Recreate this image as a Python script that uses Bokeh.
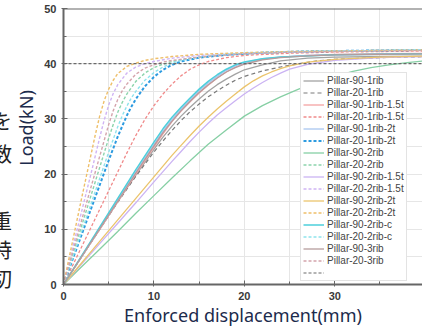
from bokeh.plotting import figure
from bokeh.models import Range1d, SingleIntervalTicker, Span, Legend, Div
from bokeh.layouts import row
from bokeh.embed import file_html
from bokeh.resources import INLINE

# ---------------- data ----------------
x_90_1rib = [0, 2, 4, 6, 8, 10, 11, 12, 13, 14, 15, 16, 17, 18, 19, 20, 22, 24, 27, 30, 35, 40.6]
y_90_1rib = [0, 5.0, 10.0, 15.0, 19.8, 24.5, 26.7, 28.7, 30.5, 32.1, 33.6, 35.0, 36.2, 37.2, 38.1, 38.9, 39.8, 40.5, 41.0, 41.2, 41.3, 41.4]

x_20_1rib = [0, 2, 4, 6, 8, 10, 11, 12, 13, 14, 15, 16, 17, 18, 19, 20, 22, 24, 26, 28, 30, 35, 40.6]
y_20_1rib = [0, 5.0, 10.0, 14.9, 19.6, 24.0, 26.0, 27.9, 29.7, 31.3, 32.7, 34.0, 35.1, 36.1, 37.0, 37.7, 38.7, 39.4, 40.0, 40.5, 40.8, 41.1, 41.3]

x_90_1rib_15t = [0, 2, 4, 6, 8, 10, 11, 12, 13, 14, 15, 16, 17, 18, 19, 20, 22, 24, 27, 30, 35, 40.6]
y_90_1rib_15t = [0, 5.0, 10.0, 15.0, 20.0, 24.9, 27.3, 29.5, 31.4, 33.1, 34.7, 36.1, 37.4, 38.5, 39.4, 40.0, 40.8, 41.2, 41.5, 41.7, 41.8, 41.9]

x_20_1rib_15t = [0, 2, 4, 6, 7, 8, 9, 10, 11, 12, 13, 14, 15, 16, 18, 20, 25, 30, 35, 40.6]
y_20_1rib_15t = [0, 6.8, 13.6, 20.4, 23.8, 27.0, 29.9, 32.4, 34.5, 36.3, 37.8, 39.0, 39.8, 40.4, 41.1, 41.5, 41.9, 42.1, 42.2, 42.3]

x_90_1rib_2t = [0, 2, 4, 6, 8, 10, 11, 12, 13, 14, 15, 16, 17, 18, 19, 20, 22, 24, 27, 30, 35, 40.6]
y_90_1rib_2t = [0, 5.1, 10.2, 15.3, 20.4, 25.4, 27.8, 29.9, 31.8, 33.5, 35.1, 36.5, 37.7, 38.8, 39.6, 40.2, 40.9, 41.2, 41.5, 41.6, 41.7, 41.8]

x_20_1rib_2t = [0, 1, 2, 3, 4, 5, 6, 7, 7.5, 8, 9, 10, 11, 12, 13, 15, 18, 22, 26, 30, 35, 40.6]
y_20_1rib_2t = [0, 4.5, 9.0, 13.5, 18.0, 22.5, 26.8, 30.6, 32.2, 33.6, 35.9, 37.6, 38.9, 39.8, 40.4, 41.1, 41.6, 42.0, 42.2, 42.3, 42.4, 42.5]

x_90_2rib = [0, 2, 4, 6, 8, 10, 12, 14, 16, 18, 20, 22, 24, 26, 28, 30, 32, 34, 36, 38, 40.6]
y_90_2rib = [0, 3.2, 6.4, 9.6, 12.9, 16.1, 19.3, 22.4, 25.4, 28.0, 30.5, 32.4, 34.0, 35.4, 36.6, 37.7, 38.6, 39.3, 39.8, 40.2, 40.6]

x_20_2rib = [0, 1, 2, 3, 4, 5, 5.5, 6, 6.5, 7, 8, 9, 10, 11, 12, 14, 17, 20, 25, 30, 35, 40.6]
y_20_2rib = [0, 5.3, 10.6, 15.9, 21.2, 26.5, 29.0, 31.2, 33.0, 34.5, 36.8, 38.3, 39.3, 39.9, 40.4, 41.0, 41.5, 41.8, 42.1, 42.3, 42.4, 42.5]

x_90_2rib_15t = [0, 2, 4, 6, 8, 10, 12, 13, 14, 15, 16, 17, 18, 19, 20, 21, 22, 23, 24, 25, 27, 30, 35, 40.6]
y_90_2rib_15t = [0, 3.7, 7.4, 11.1, 14.8, 18.6, 22.3, 24.1, 25.9, 27.6, 29.2, 30.7, 32.0, 33.3, 34.5, 35.6, 36.6, 37.5, 38.3, 39.0, 39.9, 40.6, 41.1, 41.3]

x_20_2rib_15t = [0, 1, 2, 3, 4, 4.5, 5, 5.5, 6, 7, 8, 9, 10, 12, 15, 20, 25, 30, 35, 40.6]
y_20_2rib_15t = [0, 6.6, 13.2, 19.8, 26.6, 29.8, 32.5, 34.6, 36.2, 38.3, 39.4, 40.0, 40.4, 41.0, 41.5, 41.9, 42.1, 42.3, 42.4, 42.5]

x_90_2rib_2t = [0, 2, 4, 6, 8, 10, 12, 13, 14, 15, 16, 17, 18, 19, 20, 21, 22, 23, 24, 25, 27, 30, 35, 40.6]
y_90_2rib_2t = [0, 3.9, 7.8, 11.7, 15.6, 19.5, 23.4, 25.2, 27.0, 28.7, 30.3, 31.8, 33.2, 34.5, 35.8, 36.9, 37.8, 38.5, 39.1, 39.6, 40.3, 40.8, 41.2, 41.4]

x_20_2rib_2t = [0, 1, 2, 3, 3.5, 4, 4.5, 5, 5.5, 6, 7, 8, 9, 10, 12, 15, 20, 25, 30, 35, 40.6]
y_20_2rib_2t = [0, 7.8, 15.6, 23.2, 27.0, 30.5, 33.3, 35.4, 37.0, 38.2, 39.5, 40.1, 40.6, 40.9, 41.3, 41.7, 42.0, 42.2, 42.3, 42.4, 42.5]

x_90_2rib_c = [0, 2, 4, 6, 8, 10, 11, 12, 13, 14, 15, 16, 17, 18, 19, 20, 22, 24, 27, 30, 35, 40.6]
y_90_2rib_c = [0, 5.2, 10.4, 15.6, 20.8, 25.8, 28.2, 30.3, 32.1, 33.8, 35.4, 36.8, 38.0, 39.0, 39.8, 40.3, 40.9, 41.2, 41.4, 41.6, 41.7, 41.8]

x_20_2rib_c = [0, 1, 2, 3, 4, 5, 6, 6.5, 7, 7.5, 8, 9, 10, 11, 12, 13, 15, 18, 22, 26, 30, 35, 40.6]
y_20_2rib_c = [0, 4.8, 9.6, 14.4, 19.2, 24.0, 28.6, 30.6, 32.3, 33.8, 35.0, 37.0, 38.4, 39.4, 40.1, 40.6, 41.2, 41.7, 42.0, 42.2, 42.3, 42.4, 42.5]

x_90_3rib = [0, 2, 4, 6, 8, 10, 11, 12, 13, 14, 15, 16, 17, 18, 19, 20, 22, 24, 27, 30, 35, 40.6]
y_90_3rib = [0, 5.05, 10.1, 15.1, 20.2, 25.1, 27.5, 29.6, 31.5, 33.2, 34.8, 36.2, 37.4, 38.5, 39.3, 39.9, 40.7, 41.1, 41.4, 41.6, 41.7, 41.8]

x_20_3rib = [0, 1, 2, 3, 4, 5, 5.5, 6, 6.5, 7, 8, 9, 10, 11, 12, 15, 20, 25, 30, 35, 40.6]
y_20_3rib = [0, 5.8, 11.6, 17.4, 23.2, 29.0, 31.5, 33.5, 35.1, 36.3, 38.1, 39.2, 39.8, 40.3, 40.6, 41.2, 41.8, 42.1, 42.2, 42.3, 42.4]

ref_x = [0, 40.6]
ref_y = [40, 40]

series_names = [
    "Pillar-90-1rib", "Pillar-20-1rib", "Pillar-90-1rib-1.5t", "Pillar-20-1rib-1.5t",
    "Pillar-90-1rib-2t", "Pillar-20-1rib-2t", "Pillar-90-2rib", "Pillar-20-2rib",
    "Pillar-90-2rib-1.5t", "Pillar-20-2rib-1.5t", "Pillar-90-2rib-2t", "Pillar-20-2rib-2t",
    "Pillar-90-2rib-c", "Pillar-20-2rib-c", "Pillar-90-3rib", "Pillar-20-3rib",
]
series_x = [x_90_1rib, x_20_1rib, x_90_1rib_15t, x_20_1rib_15t, x_90_1rib_2t, x_20_1rib_2t,
            x_90_2rib, x_20_2rib, x_90_2rib_15t, x_20_2rib_15t, x_90_2rib_2t, x_20_2rib_2t,
            x_90_2rib_c, x_20_2rib_c, x_90_3rib, x_20_3rib]
series_y = [y_90_1rib, y_20_1rib, y_90_1rib_15t, y_20_1rib_15t, y_90_1rib_2t, y_20_1rib_2t,
            y_90_2rib, y_20_2rib, y_90_2rib_15t, y_20_2rib_15t, y_90_2rib_2t, y_20_2rib_2t,
            y_90_2rib_c, y_20_2rib_c, y_90_3rib, y_20_3rib]

x_title = "Enforced displacement(mm)"
y_title = "Load(kN)"
x_start, x_end = 0, 39.7
y_start, y_end = 0, 50
side_text = ["を", "数", "重", "特", "切"]

# ---------------- styles ----------------
colors = ["#a3a3a3", "#7a7a7a", "#f4a3a3", "#f08a8a", "#a9c6f0", "#2d9be0",
          "#86cfa4", "#8cd4ac", "#cbb3f3", "#d0b4f4", "#ebc46c", "#eebf6a",
          "#4ccfdb", "#8fe3ec", "#b59c9c", "#d4a4ac"]
dashes = ["solid", "4 3", "solid", "3 2", "solid", "3 2", "solid", "3 2",
          "solid", "3 2", "solid", "3 2", "solid", "3 2", "solid", "3 2"]
widths = [1.3, 1.2, 1.3, 1.3, 1.3, 2.0, 1.3, 1.4, 1.3, 1.4, 1.3, 1.4, 1.5, 1.4, 1.3, 1.4]

LEFT_W = 40
side_tops = [111, 144, 211, 240, 269]

p = figure(width=422 - LEFT_W, height=329, output_backend="svg", toolbar_location=None,
           x_range=Range1d(x_start, x_end), y_range=Range1d(y_start, y_end),
           min_border_left=63 - LEFT_W, min_border_right=0, min_border_top=8, min_border_bottom=45)
p.outline_line_color = None
p.background_fill_color = "white"

for gr in (p.xgrid, p.ygrid):
    gr.grid_line_color = "#e6e6e6"
    gr.minor_grid_line_color = "#e6e6e6"
    gr.grid_line_width = 1
    gr.minor_grid_line_width = 1

for ax in (p.xaxis[0], p.yaxis[0]):
    ax.ticker = SingleIntervalTicker(interval=10, num_minor_ticks=2)
    ax.axis_line_color = "#666666"
    ax.axis_line_width = 2
    ax.major_tick_line_color = "#666666"
    ax.minor_tick_line_color = "#666666"
    ax.major_tick_in = 4
    ax.major_tick_out = 2
    ax.minor_tick_in = 3
    ax.minor_tick_out = 0
    ax.major_label_text_font = "Liberation Sans"
    ax.major_label_text_font_style = "bold"
    ax.major_label_text_font_size = "11px"
    ax.major_label_text_color = "#3a3a3a"
    ax.major_label_standoff = 5

p.xaxis.axis_label = x_title
p.xaxis.axis_label_text_font = "Noto Sans"
p.xaxis.axis_label_text_font_style = "normal"
p.xaxis.axis_label_text_font_size = "18px"
p.xaxis.axis_label_text_color = "#1c2b4c"
p.xaxis.axis_label_standoff = 0

renderers = []
for name, xs, ys, c, d, w in zip(series_names, series_x, series_y, colors, dashes, widths):
    r = p.line(xs, ys, line_color=c, line_dash=d, line_width=w)
    renderers.append((name, r))

r_ref = p.line(ref_x, ref_y, line_color="#6a6a6a", line_dash="3 2", line_width=1.2)
renderers.append((" ", r_ref))

legend = Legend(items=[(n, [r]) for n, r in renderers], location=(237, 3),
                label_text_font="Liberation Sans", label_text_font_size="10px",
                label_text_color="#444444", glyph_width=21, glyph_height=11,
                label_height=11, spacing=1, padding=2, margin=0, label_standoff=3,
                border_line_color="#c8c8c8", border_line_width=1,
                background_fill_color="white", background_fill_alpha=1)
p.add_layout(legend, "center")

top_line = Span(location=y_end, dimension="width", line_color="#666666", line_width=2)
p.add_layout(top_line)

parts = []
for ch, t in zip(side_text, side_tops):
    parts.append(
        f'<div style="position:absolute;left:-8px;top:{t}px;font-family:\'Noto Sans CJK JP\';'
        f'font-size:20px;line-height:20px;color:#222222;">{ch}</div>')
parts.append(
    f'<div style="position:absolute;left:26px;top:128px;transform:translate(-50%,-50%) rotate(-90deg);'
    f'font-family:\'Noto Sans\';font-size:18px;line-height:22px;color:#1c2b4c;white-space:nowrap;">{y_title}</div>')
side = Div(text='<div style="position:relative;width:%dpx;height:329px;overflow:hidden;">%s</div>'
           % (LEFT_W, "".join(parts)),
           width=LEFT_W, height=329, styles={"overflow": "hidden", "margin": "0", "padding": "0"})

layout = row(side, p, spacing=0)

open("out.html", "w").write(file_html(layout, INLINE))
